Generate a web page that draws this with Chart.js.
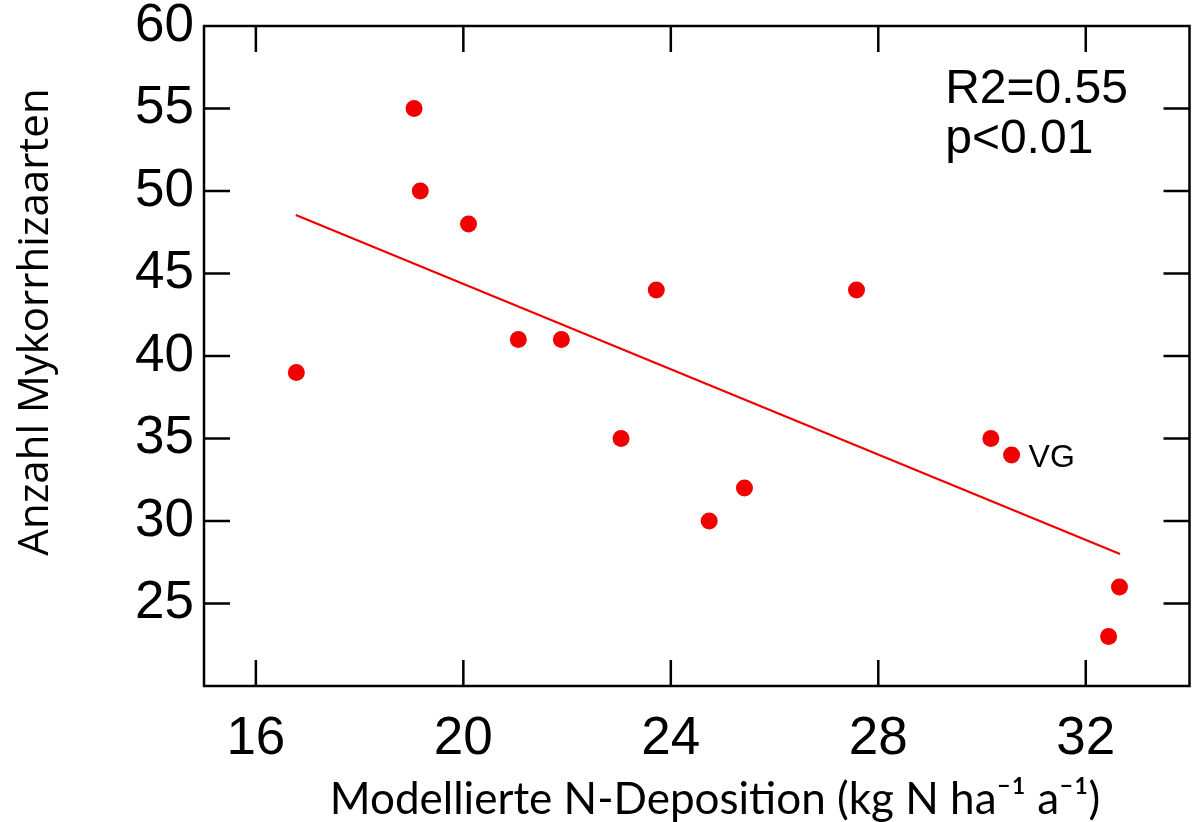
<!DOCTYPE html>
<html>
<head>
<meta charset="utf-8">
<script src="https://cdn.jsdelivr.net/npm/chart.js@4/dist/chart.umd.min.js"></script>
<style>
  body { margin: 0; background: #fff; }
  canvas { display: block; }
</style>
</head>
<body>
<canvas id="nChart" width="1198" height="822"></canvas>
<script>
const depositionX = [16.78, 19.05, 19.17, 20.10, 21.06, 21.89, 23.04, 23.72, 24.74, 25.42, 27.58, 30.17, 30.57, 32.44, 32.65];
const artenY      = [39, 55, 50, 48, 41, 41, 35, 44, 30, 32, 44, 35, 34, 23, 26];

// Regressionsgerade
const fitX = [16.77, 32.66];
const fitY = [48.55, 28.0];

// Achsen
const xTickValues = [16, 20, 24, 28, 32];
const yTickValues = [20, 25, 30, 35, 40, 45, 50, 55, 60];

const xTitle = 'Modellierte N-Deposition (kg N ha\u207B\u00B9 a\u207B\u00B9)';
const yTitle = 'Anzahl Mykorrhizaarten';
const statLines = ['R2=0.55', 'p<0.01'];
const vgIndex = 12;

const red = '#f00000';
const tickFont = '"Liberation Sans", Arial, sans-serif';

// Rahmen, nach innen zeigende Striche, Titel und Beschriftungen
const framePlugin = {
    id: 'frame',
    afterDraw(chart) {
        const ctx = chart.ctx;
        const a = chart.chartArea;
        const xs = chart.scales.x;
        const ys = chart.scales.y;
        const len = 26;

        ctx.save();
        ctx.strokeStyle = '#000';
        ctx.lineWidth = 2.5;
        ctx.strokeRect(a.left, a.top, a.right - a.left, a.bottom - a.top);

        ctx.beginPath();
        xTickValues.forEach(v => {
            const px = xs.getPixelForValue(v);
            ctx.moveTo(px, a.bottom); ctx.lineTo(px, a.bottom - len);
            ctx.moveTo(px, a.top); ctx.lineTo(px, a.top + len);
        });
        yTickValues.forEach(v => {
            if (v === ys.min || v === ys.max) return;
            const py = ys.getPixelForValue(v);
            ctx.moveTo(a.left, py); ctx.lineTo(a.left + len, py);
            ctx.moveTo(a.right, py); ctx.lineTo(a.right - len, py);
        });
        ctx.stroke();

        ctx.fillStyle = '#000';

        // x-Titel
        ctx.font = '44px Lato, "Open Sans", sans-serif';
        ctx.textAlign = 'center';
        ctx.textBaseline = 'middle';
        ctx.fillText(xTitle, 715, 800);

        // y-Titel
        ctx.save();
        ctx.translate(36, 322);
        ctx.rotate(-Math.PI / 2);
        ctx.font = '42px "Open Sans", sans-serif';
        ctx.fillText(yTitle, 0, 0);
        ctx.restore();

        // Statistik
        ctx.font = '48px "Liberation Sans", Arial, sans-serif';
        ctx.textAlign = 'left';
        ctx.textBaseline = 'alphabetic';
        const sx = xs.getPixelForValue(29.29);
        ctx.fillText(statLines[0], sx, ys.getPixelForValue(55.33));
        ctx.fillText(statLines[1], sx, ys.getPixelForValue(52.3));

        // VG
        ctx.font = '32px "Liberation Sans", Arial, sans-serif';
        ctx.textBaseline = 'middle';
        ctx.fillText('VG', xs.getPixelForValue(depositionX[vgIndex]) + 17, ys.getPixelForValue(artenY[vgIndex]) + 3);
        ctx.restore();
    }
};

const ctx = document.getElementById('nChart').getContext('2d');
new Chart(ctx, {
    data: {
        datasets: [
            {
                type: 'scatter',
                data: depositionX.map((x, i) => ({ x: x, y: artenY[i] })),
                backgroundColor: red,
                borderWidth: 0,
                pointRadius: 8.5,
                pointHoverRadius: 8.5
            },
            {
                type: 'line',
                data: fitX.map((x, i) => ({ x: x, y: fitY[i] })),
                borderColor: red,
                borderWidth: 2.2,
                pointRadius: 0,
                fill: false
            }
        ]
    },
    options: {
        responsive: false,
        animation: false,
        layout: { padding: { top: 26, right: 5, left: 0, bottom: 0 } },
        plugins: {
            legend: { display: false },
            tooltip: { enabled: false }
        },
        scales: {
            x: {
                type: 'linear',
                min: 15,
                max: 34,
                grid: { display: false, drawTicks: false },
                border: { display: false },
                afterBuildTicks: scale => { scale.ticks = xTickValues.map(v => ({ value: v })); },
                afterFit: scale => {
                    scale.height = 136;
                    scale.paddingLeft = 0;
                    scale.paddingRight = 0;
                },
                ticks: {
                    color: '#000',
                    padding: 22,
                    maxRotation: 0,
                    font: { family: tickFont, size: 53 }
                }
            },
            y: {
                type: 'linear',
                min: 20,
                max: 60,
                grid: { display: false, drawTicks: false },
                border: { display: false },
                afterBuildTicks: scale => { scale.ticks = yTickValues.map(v => ({ value: v })); },
                afterFit: scale => {
                    scale.width = 204;
                    scale.paddingTop = 0;
                    scale.paddingBottom = 0;
                },
                ticks: {
                    color: '#000',
                    padding: 10,
                    font: { family: tickFont, size: 53 },
                    callback: v => (v === 20 ? '' : v)
                }
            }
        }
    },
    plugins: [framePlugin]
});
</script>
</body>
</html>
